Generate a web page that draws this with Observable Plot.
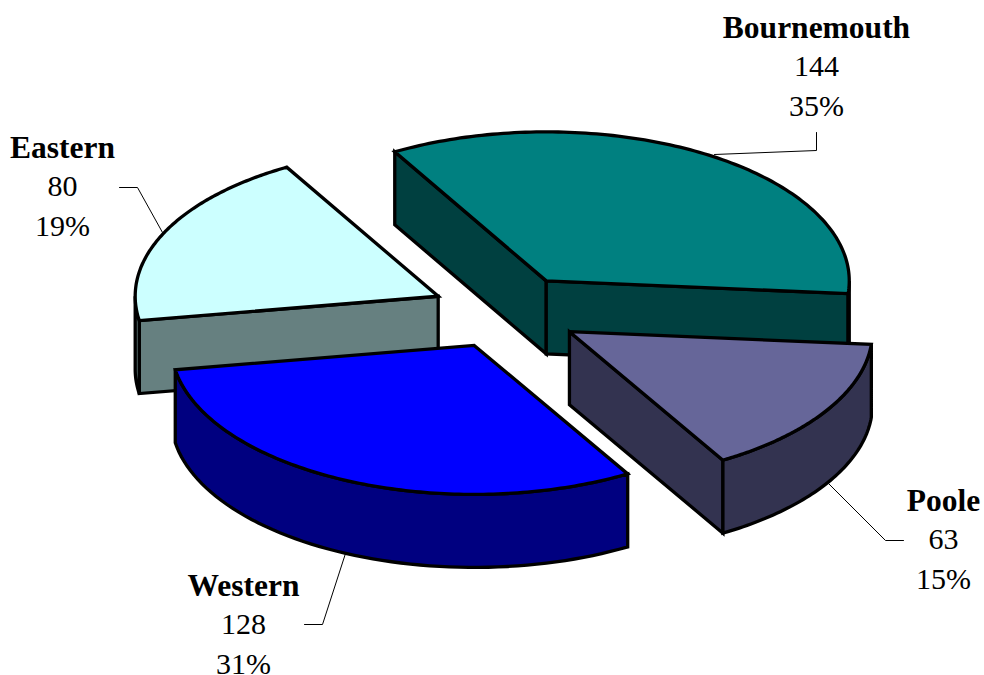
<!DOCTYPE html>
<html>
<head>
<meta charset="utf-8">
<script src="https://cdn.jsdelivr.net/npm/d3@7"></script>
<script src="https://cdn.jsdelivr.net/npm/@observablehq/plot@0.6"></script>
<style>
html, body { margin: 0; padding: 0; background: #fff; }
svg { display: block; }
</style>
</head>
<body>
<div id="chart"></div>
<script>
// Data
const regions = ["Bournemouth", "Poole", "Western", "Eastern"];
const counts = [144, 63, 128, 80];
const topColors = ["#008080", "#666699", "#0000FF", "#CCFFFF"];
const sideColors = ["#004040", "#333350", "#000080", "#668080"];

// Layout of the tilted, exploded pie
const W = 984, H = 675;
const cx = 505.5, cy = 311.5, rx = 303, ry = 149, depth = 73, explode = 75;
const startDeg = -30;
const drawOrder = ["Eastern", "Bournemouth", "Poole", "Western"];

// Label anchors (centre x, baseline of first line) and leader polylines
const labelX = [816, 943, 243, 62];
const labelY = [37, 510, 595, 157];
const valueBaselines = [38.4, 78.2];
const leaderX = [[816, 816, 714], [828, 885, 903], [345, 322, 304], [162, 137, 119]];
const leaderY = [[132, 150, 154], [483, 540, 540], [553, 624, 624], [232, 187, 187]];

const rad = d => d * Math.PI / 180;
const pie = d3.pie().sort(null).startAngle(rad(startDeg)).endAngle(rad(startDeg + 360))(counts);
const total = d3.sum(counts);
const pct = d3.format(".0%");

const rows = [];
let faceId = 0;
function addFace(pts, fill) {
  const id = faceId++;
  for (const [x, y] of pts) rows.push({id, x, y, fill});
}
for (const name of drawOrder) {
  const i = regions.indexOf(name);
  const {startAngle: a0, endAngle: a1} = pie[i];
  const mid = (a0 + a1) / 2;
  const ax = cx + explode * Math.sin(mid);
  const ay = cy - explode * (ry / rx) * Math.cos(mid);
  const pt = (a, dz = 0) => [ax + rx * Math.sin(a), ay - ry * Math.cos(a) + dz];
  const radial = a => {
    const p = pt(a);
    addFace([[ax, ay], p, [p[0], p[1] + depth], [ax, ay + depth]], sideColors[i]);
  };
  // A radial wall shows when its outward normal points towards the viewer
  if (-Math.cos(a0 - Math.PI / 2) > 0) radial(a0);
  if (-Math.cos(a1 + Math.PI / 2) > 0) radial(a1);
  // Outer rim: visible only on the front half of the ellipse
  const lo = Math.max(a0, Math.PI / 2), hi = Math.min(a1, 3 * Math.PI / 2);
  if (hi > lo) {
    const as = d3.range(0, 61).map(k => lo + (hi - lo) * k / 60);
    addFace([...as.map(a => pt(a)), ...as.slice().reverse().map(a => pt(a, depth))], sideColors[i]);
  }
  // Top
  const as = d3.range(0, 121).map(k => a0 + (a1 - a0) * k / 120);
  addFace([[ax, ay], ...as.map(a => pt(a))], topColors[i]);
}

const leaderRows = regions.flatMap((r, i) => leaderX[i].map((x, k) => ({r, x, y: leaderY[i][k]})));
const nameRows = regions.map((r, i) => ({t: r, x: labelX[i], y: labelY[i]}));
const valueRows = regions.flatMap((r, i) => [
  {t: String(counts[i]), x: labelX[i], y: labelY[i] + valueBaselines[0]},
  {t: pct(counts[i] / total), x: labelX[i], y: labelY[i] + valueBaselines[1]}
]);
const baselineShift = fs => fs * 0.32;

const plot = Plot.plot({
  width: W, height: H,
  margin: 0,
  x: {domain: [0, W], range: [0, W], axis: null},
  y: {domain: [0, H], range: [0, H], axis: null},
  color: {type: "identity"},
  style: {background: "#fff"},
  marks: [
    Plot.line(leaderRows, {x: "x", y: "y", z: "r", stroke: "#000", strokeWidth: 1, curve: "linear"}),
    Plot.line(rows, {
      x: "x", y: "y", z: "id", fill: "fill", stroke: "#000", strokeWidth: 3.3,
      strokeLinejoin: "miter", strokeMiterlimit: 3, curve: "linear-closed"
    }),
    Plot.text(nameRows, {
      x: "x", y: d => d.y - baselineShift(31.5), text: "t", fontSize: 31.5, fontWeight: "bold",
      fontFamily: "Liberation Serif", fill: "#000", lineAnchor: "middle"
    }),
    Plot.text(valueRows, {
      x: "x", y: d => d.y - baselineShift(30), text: "t", fontSize: 30,
      fontFamily: "Liberation Serif", fill: "#000", lineAnchor: "middle"
    })
  ]
});
document.getElementById("chart").appendChild(plot);
</script>
</body>
</html>
